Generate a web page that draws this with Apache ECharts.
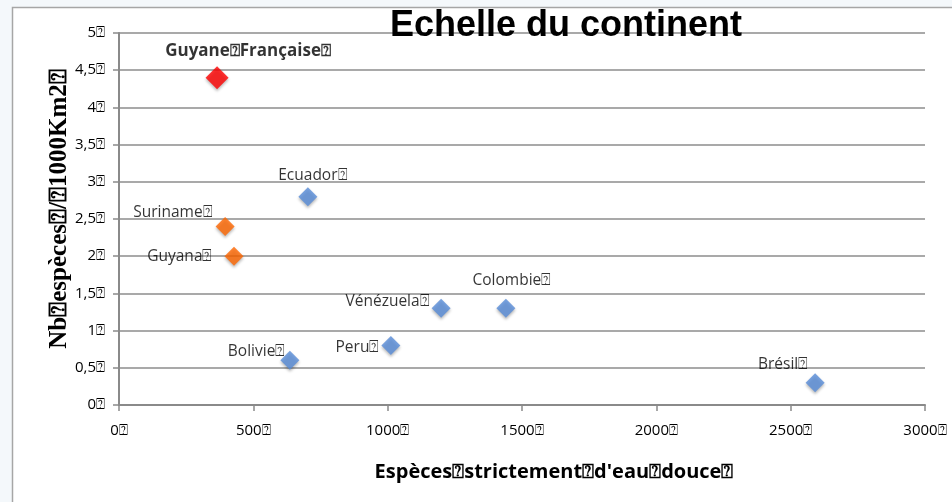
<!DOCTYPE html>
<html>
<head>
<meta charset="utf-8">
<script src="https://cdn.jsdelivr.net/npm/echarts@6/dist/echarts.min.js"></script>
<style>
  html, body { margin: 0; padding: 0; background: #f4f8fb; }
  #chart { width: 952px; height: 502px; }
</style>
</head>
<body>
<div id="chart"></div>
<script>
// the source renders its spaces as missing-glyph boxes
const Q = "\u2370";

// ===== data =====
const countries = ["Guyane" + Q + "Française" + Q, "Suriname" + Q, "Guyana" + Q, "Ecuador" + Q,
  "Bolivie" + Q, "Peru" + Q, "Vénézuela" + Q, "Colombie" + Q, "Brésil" + Q];
const freshwaterSpecies = [365, 395, 428, 703, 636, 1012, 1199, 1440, 2591];
const speciesPer1000Km2 = [4.4, 2.4, 2.0, 2.8, 0.6, 0.8, 1.3, 1.3, 0.3];
// which group each country belongs to: 0 = Guyane française, 1 = Guianas, 2 = others
const groups = [0, 1, 1, 2, 2, 2, 2, 2, 2];
const xTicks = [0, 500, 1000, 1500, 2000, 2500, 3000];
const yTicks = [0, 0.5, 1, 1.5, 2, 2.5, 3, 3.5, 4, 4.5, 5];

// label placement per country (style only)
const labelPlace = [
  { position: "top", offset: [31, -1], fontWeight: "bold", fontSize: 17 },
  { position: "left", offset: [2, -14] },
  { position: "left", offset: [-7, 0] },
  { position: "top", offset: [5, 1] },
  { position: "left", offset: [10, -9] },
  { position: "left", offset: [3, 2] },
  { position: "left", offset: [3, -7] },
  { position: "top", offset: [6, -5] },
  { position: "top", offset: [-32, 4] },
];

const groupStyle = [
  { color: "#ff0000", size: 23 },
  { color: "#ff6600", size: 19 },
  { color: "#578cd8", size: 19 },
];

const fmt = (v) => String(v).replace(".", ",") + Q;

const chart = echarts.init(document.getElementById("chart"));

const series = groupStyle.map((g, gi) => ({
  type: "scatter",
  symbol: "diamond",
  symbolSize: g.size,
  itemStyle: {
    color: g.color,
    shadowBlur: 3,
    shadowOffsetY: 2,
    shadowColor: "rgba(0,0,0,0.35)",
  },
  label: {
    show: true,
    formatter: (p) => p.data.name,
    color: "#000",
    fontFamily: "Open Sans",
    fontSize: 15.5,
  },
  data: countries
    .map((name, i) => ({ name, i }))
    .filter((d) => groups[d.i] === gi)
    .map((d) => ({
      name: d.name,
      value: [freshwaterSpecies[d.i], speciesPer1000Km2[d.i]],
      label: labelPlace[d.i],
    })),
}));

const option = {
  backgroundColor: "#f4f8fb",
  animation: false,
  graphic: [
    {
      type: "rect",
      shape: { x: 12.5, y: 7.5, width: 960, height: 520 },
      style: { fill: "#ffffff", stroke: "#a6a6a6", lineWidth: 1.5 },
      z: -10,
    },
  ],
  title: {
    text: "Echelle du continent",
    left: 561,
    textAlign: "center",
    top: 3,
    textStyle: {
      fontFamily: "Liberation Sans",
      fontWeight: "bold",
      fontSize: 36,
      color: "#000",
    },
  },
  grid: { left: 119, right: 27, top: 33, bottom: 97 },
  xAxis: {
    type: "value",
    min: xTicks[0],
    max: xTicks[xTicks.length - 1],
    interval: 500,
    name: "Espèces" + Q + "strictement" + Q + "d'eau" + Q + "douce" + Q,
    nameLocation: "middle",
    nameGap: 57,
    nameMoveOverlap: false,
    nameTextStyle: {
      fontFamily: "Open Sans", fontWeight: "bold", fontSize: 20, color: "#000",
      padding: [0, 0, 0, 64],
    },
    axisLine: { lineStyle: { color: "#8a8a8a", width: 2 } },
    axisTick: { show: true, inside: false, length: 6, lineStyle: { color: "#8a8a8a", width: 1.5 } },
    axisLabel: { formatter: fmt, margin: 18, fontFamily: "Open Sans", fontSize: 15, color: "#000" },
    splitLine: { show: false },
  },
  yAxis: {
    type: "value",
    min: yTicks[0],
    max: yTicks[yTicks.length - 1],
    interval: 0.5,
    name: "Nb" + Q + "espèces" + Q + "/" + Q + "1000Km2" + Q,
    nameLocation: "middle",
    nameGap: 47,
    nameMoveOverlap: false,
    nameTextStyle: {
      fontFamily: "Liberation Serif", fontWeight: "bold", fontSize: 25, color: "#000",
      padding: [0, 0, 0, 20],
    },
    axisLine: { show: true, lineStyle: { color: "#8a8a8a", width: 2 } },
    axisTick: { show: true, length: 6, lineStyle: { color: "#8a8a8a", width: 1.5 } },
    axisLabel: { formatter: fmt, margin: 14, fontFamily: "Open Sans", fontSize: 15, color: "#000" },
    splitLine: { show: true, lineStyle: { color: "#8c8c8c", width: 1.5 } },
  },
  series,
};

chart.setOption(option);
</script>
</body>
</html>
